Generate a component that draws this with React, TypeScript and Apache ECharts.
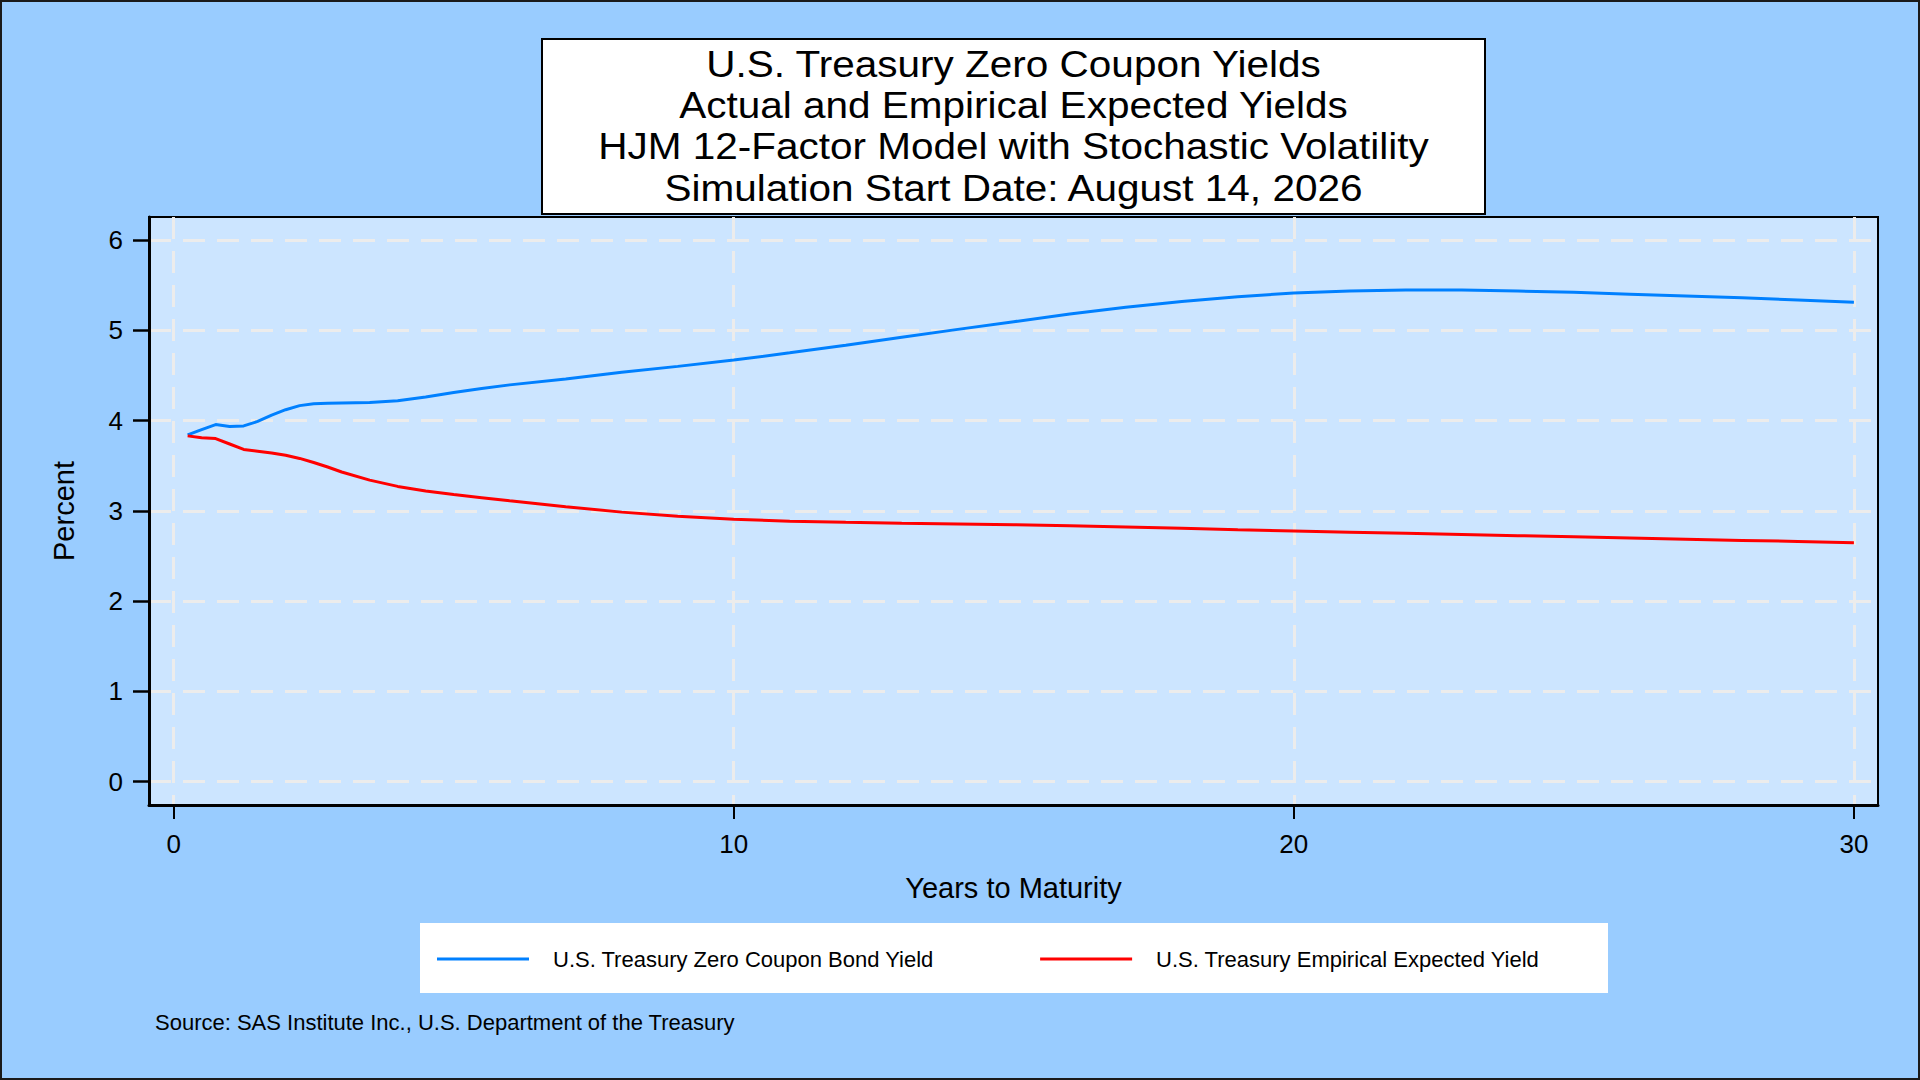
import { useEffect, useRef } from "react";
import * as echarts from "echarts";

// years to maturity, shared by both curves
const maturities = [
  0.25, 0.5, 0.75, 1, 1.25, 1.5, 1.75, 2, 2.25, 2.5, 2.75, 3, 3.5, 4, 4.5, 5, 5.5, 6,
  7, 8, 9, 10, 11, 12, 13, 14, 15, 16, 17, 18, 19, 20, 21, 22, 23, 24, 25, 26, 27, 28, 29, 30,
];

const zeroCouponYield = [
  3.84, 3.9, 3.955, 3.935, 3.94, 3.99, 4.06, 4.12, 4.165, 4.185, 4.192, 4.195, 4.2, 4.22, 4.26, 4.31, 4.355, 4.395,
  4.46, 4.535, 4.6, 4.67, 4.75, 4.835, 4.922, 5.01, 5.095, 5.18, 5.255, 5.32, 5.372, 5.413, 5.435, 5.445, 5.445, 5.435,
  5.42, 5.4, 5.38, 5.36, 5.335, 5.31,
];

const expectedYield = [
  3.83, 3.81, 3.8, 3.74, 3.68, 3.66, 3.64, 3.615, 3.58, 3.535, 3.485, 3.43, 3.34, 3.27, 3.22, 3.18, 3.145, 3.11,
  3.045, 2.985, 2.94, 2.905, 2.885, 2.872, 2.862, 2.854, 2.846, 2.833, 2.82, 2.806, 2.79, 2.776, 2.763, 2.75, 2.737,
  2.724, 2.711, 2.698, 2.685, 2.672, 2.66, 2.647,
];

const xTicks = [0, 10, 20, 30];
const yTicks = [0, 1, 2, 3, 4, 5, 6];

const titleLines = [
  "U.S. Treasury Zero Coupon Yields",
  "Actual and Empirical Expected Yields",
  "HJM 12-Factor Model with Stochastic Volatility",
  "Simulation Start Date: August 14, 2026",
];

const seriesNames = [
  "U.S. Treasury Zero Coupon Bond Yield",
  "U.S. Treasury Empirical Expected Yield",
];

const sourceNote = "Source: SAS Institute Inc., U.S. Department of the Treasury";

const FONT = '"Liberation Sans", Arial, Helvetica, sans-serif';

export default function App() {
  const chartRef = useRef<HTMLDivElement>(null);

  useEffect(() => {
    if (!chartRef.current) return;
    document.body.style.margin = "0";

    const chart = echarts.init(chartRef.current, undefined, { renderer: "svg" });

    const gridLine = {
      show: true,
      lineStyle: { color: "#ECECEC", width: 3, type: [22, 12] },
    };

    // title lines sit tight (41px apart), so the font is a bit smaller and stretched sideways
    const titleTexts = titleLines.map((line, i) => ({
      type: "text",
      z: 6,
      x: 1013.5,
      y: 126 + (i - 1.5) * 41.3,
      scaleX: 1.11,
      style: {
        text: line,
        x: 0,
        y: 0,
        align: "center",
        verticalAlign: "middle",
        fontSize: 36.5,
        fontFamily: FONT,
        fill: "#000",
      },
    }));

    const option = {
      animation: false,
      backgroundColor: "#99CCFF",
      textStyle: { fontFamily: FONT },
      grid: {
        left: 149,
        top: 217,
        width: 1729,
        height: 588,
        show: true,
        backgroundColor: "#CCE5FF",
        borderColor: "#000",
        borderWidth: 2,
      },
      legend: {
        data: seriesNames,
        left: 432,
        top: 943,
        icon: "rect",
        itemWidth: 92,
        itemHeight: 3,
        itemGap: 106,
        textStyle: { fontSize: 22, color: "#000", fontFamily: FONT, padding: [0, 0, 0, 19] },
        z: 10,
      },
      xAxis: {
        type: "value",
        min: -0.44,
        max: 30.43,
        name: "Years to Maturity",
        nameLocation: "middle",
        nameGap: 68,
        nameTextStyle: { fontSize: 29, color: "#000", fontFamily: FONT },
        axisLine: { show: true, onZero: false, lineStyle: { color: "#000", width: 3 } },
        axisTick: { show: true, customValues: xTicks, length: 14, lineStyle: { color: "#000", width: 2 } },
        axisLabel: { customValues: xTicks, margin: 26, fontSize: 26, color: "#000", fontFamily: FONT },
        splitLine: gridLine,
      },
      yAxis: {
        type: "value",
        min: -0.26,
        max: 6.255,
        name: "Percent",
        nameLocation: "middle",
        nameGap: 71,
        nameTextStyle: { fontSize: 29, color: "#000", fontFamily: FONT },
        axisLine: { show: true, onZero: false, lineStyle: { color: "#000", width: 3 } },
        axisTick: { show: true, customValues: yTicks, length: 16, lineStyle: { color: "#000", width: 2.5 } },
        axisLabel: { customValues: yTicks, margin: 26, fontSize: 26, color: "#000", fontFamily: FONT },
        splitLine: gridLine,
      },
      graphic: [
        {
          type: "rect",
          shape: { x: 542, y: 39, width: 943, height: 175 },
          style: { fill: "#fff", stroke: "#000", lineWidth: 2 },
          z: 5,
        },
        ...titleTexts,
        {
          type: "rect",
          shape: { x: 420, y: 923, width: 1188, height: 70 },
          style: { fill: "#fff" },
          z: 1,
        },
        {
          type: "text",
          style: {
            text: sourceNote,
            x: 155,
            y: 1022.5,
            verticalAlign: "middle",
            fontSize: 22,
            fontFamily: FONT,
            fill: "#000",
          },
        },
        {
          type: "rect",
          shape: { x: 1, y: 1, width: 1918, height: 1078 },
          style: { fill: "none", stroke: "#1a1a1a", lineWidth: 2 },
          z: 20,
        },
      ],
      series: [
        {
          name: seriesNames[0],
          type: "line",
          symbol: "none",
          data: maturities.map((m, i) => [m, zeroCouponYield[i]]),
          lineStyle: { color: "#0080FF", width: 3 },
          itemStyle: { color: "#0080FF" },
        },
        {
          name: seriesNames[1],
          type: "line",
          symbol: "none",
          data: maturities.map((m, i) => [m, expectedYield[i]]),
          lineStyle: { color: "#FF0000", width: 3 },
          itemStyle: { color: "#FF0000" },
        },
      ],
    };

    chart.setOption(option);

    return () => {
      chart.dispose();
    };
  }, []);

  return <div ref={chartRef} style={{ width: "1920px", height: "1080px" }} />;
}
